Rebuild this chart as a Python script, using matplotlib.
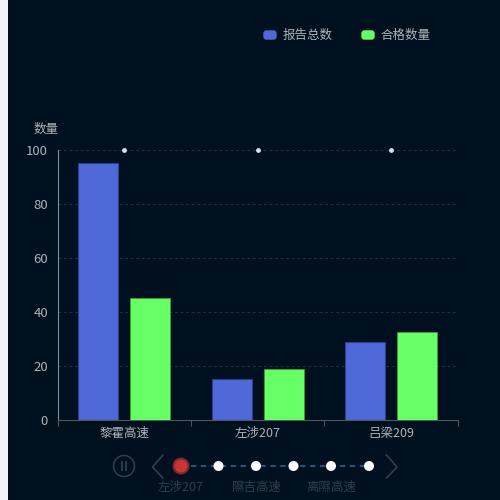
import matplotlib
matplotlib.use('Agg')
import matplotlib.pyplot as plt
from matplotlib.patches import Rectangle, FancyBboxPatch, Circle

plt.rcParams['font.family'] = ['Noto Sans CJK SC', 'DejaVu Sans']

# data
categories = ['黎霍高速', '左涉207', '吕梁209']
report_total = [95, 15, 28.7]
qualified = [45, 18.7, 32.5]
marker_values = [100, 100, 100]
y_ticks = [0, 20, 40, 60, 80, 100]
legend_names = ['报告总数', '合格数量']
timeline_labels = ['左涉207', '隰吉高速', '离隰高速']

BG = '#00101e'
BLUE = '#4f69d9'
GREEN = '#66ff66'
TEXT = '#aeb3b8'
DIM = '#2b4050'

fig = plt.figure(figsize=(5, 5), dpi=100, facecolor=BG)

# main plot
ax = fig.add_axes([57.6 / 500, 80.4 / 500, 400 / 500, 270 / 500], facecolor=BG)
x = list(range(len(categories)))
ax.bar([i - 0.195 for i in x], report_total, width=0.3, color=BLUE,
       edgecolor='#2c3f8f', linewidth=0.8, zorder=3)
ax.bar([i + 0.195 for i in x], qualified, width=0.3, color=GREEN,
       edgecolor='#3f9f3f', linewidth=0.5, zorder=3)
ax.scatter(x, marker_values, s=6, color='#d5e3ea', zorder=4, clip_on=False)

ax.set_xlim(-0.5, 2.5)
ax.set_ylim(0, 100)
ax.set_yticks(y_ticks)
ax.set_xticks([-0.5, 0.5, 1.5, 2.5])
ax.set_xticklabels([])
ax.tick_params(axis='x', length=4, color='#555555', width=0.8)
ax.tick_params(axis='y', length=0, labelcolor=TEXT, labelsize=9.5, pad=7)
for lab in ax.get_yticklabels():
    lab.set_va('center_baseline')
for i, name in enumerate(categories):
    ax.text(i, -5.2, name, color=TEXT, fontsize=9, ha='center', va='center')
ax.grid(axis='y', color='#1d3240', linestyle=(0, (2.5, 2.5)), linewidth=0.8, zorder=0)
ax.set_axisbelow(True)
for s in ['top', 'right']:
    ax.spines[s].set_visible(False)
ax.spines['left'].set_color('#8a8f92')
ax.spines['left'].set_linewidth(0.8)
ax.spines['bottom'].set_color('#555555')
ax.spines['bottom'].set_linewidth(0.8)

# overlay in pixels for the legend, strip and timeline
ov = fig.add_axes([0, 0, 1, 1], facecolor='none')
ov.set_xlim(0, 500)
ov.set_ylim(500, 0)
ov.axis('off')

ov.add_patch(Rectangle((0, 0), 8, 500, color='#f2f4fa', lw=0))
ov.text(46, 129, '数量', color=TEXT, fontsize=9, ha='center', va='center')

# legend
for lx, name, col in zip([263, 361], legend_names, [BLUE, GREEN]):
    ov.add_patch(FancyBboxPatch((lx + 1, 31), 12, 8, boxstyle='round,pad=0,rounding_size=2.5',
                                mutation_aspect=1, fc=col, ec=col, lw=1))
    ov.text(lx + 20, 35, name, color=TEXT, fontsize=9, ha='left', va='center')

# timeline
tl_y = 466
tl_x = [181, 218.5, 256, 293.5, 331, 369]
ov.plot(tl_x, [tl_y] * 6, color='#1f6fa8', lw=1.1, ls=(0, (3.5, 3)), zorder=1)
ov.add_patch(Circle((tl_x[0], tl_y), 8.5, fc='#7a2a2c', ec='none', zorder=2))
ov.add_patch(Circle((tl_x[0], tl_y), 6.5, fc='#c93534', ec='none', zorder=3))
for tx in tl_x[1:]:
    ov.add_patch(Circle((tx, tl_y), 5, fc='white', ec='none', zorder=3))
for tx, name in zip(tl_x[0::2], timeline_labels):
    ov.text(tx, 487.5, name, color=DIM, fontsize=9, ha='center', va='center')

# play button and arrows
ov.add_patch(Circle((124, tl_y), 10.5, fc='none', ec=DIM, lw=1.1))
ov.plot([122, 122], [462, 470], color=DIM, lw=1.3)
ov.plot([126, 126], [462, 470], color=DIM, lw=1.3)
ov.plot([163, 152.5, 163], [455, 467, 478], color=DIM, lw=1.2)
ov.plot([386.5, 397, 386.5], [455, 467, 478], color=DIM, lw=1.2)

fig.savefig('out.png', dpi=100, facecolor=BG)
